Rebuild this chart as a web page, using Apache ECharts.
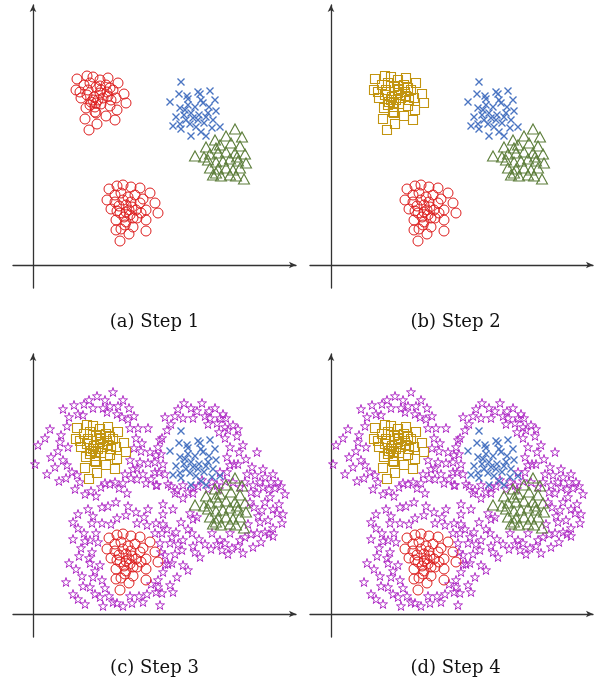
<!DOCTYPE html>
<html>
<head>
<meta charset="utf-8">
<script src="https://cdn.jsdelivr.net/npm/echarts@6/dist/echarts.min.js"></script>
<style>
  html, body { margin: 0; padding: 0; background: #fff; }
  #main { width: 608px; height: 688px; }
</style>
</head>
<body>
<div id="main"></div>
<script>
// cluster points, same coordinates in every panel (origin = axis crossing)
var topCluster = [
  [44,186],[54,189],[60,188],[67,185],[75,187],[85,182],[43,175],[51,180],[57,182],[63,178],
  [73,180],[80,175],[91,171],[48,167],[54,170],[61,168],[67,172],[75,169],[83,167],[93,162],
  [53,157],[62,158],[68,161],[77,159],[84,155],[52,146],[63,152],[73,149],[82,145],[56,135],
  [64,141],[47,173],[58,163],[70,167],[78,165],[65,165],[62,153],[55,175],[67,179],[74,173],
  [60,165],[63,162],[57,160],[68,175],[77,177]
];
var bottomCluster = [
  [76,76],[84,79],[90,80],[98,78],[107,77],[117,72],[74,65],[82,70],[88,72],[95,68],
  [102,70],[110,66],[122,62],[78,56],[86,59],[93,60],[99,58],[107,62],[113,55],[125,52],
  [83,45],[91,48],[97,50],[104,47],[113,45],[83,35],[92,40],[100,38],[113,34],[87,24],
  [96,31],[82,63],[96,55],[103,55],[87,52],[93,43],[84,54],[108,52],[98,63],[90,65],
  [93,53],[100,47],[88,36]
];
var crossCluster = [
  [148,183],[137,163],[146,171],[154,169],[165,173],[167,171],[177,174],[182,165],[147,157],[155,160],
  [162,158],[170,162],[176,158],[183,154],[143,148],[151,150],[158,152],[166,150],[173,148],[180,145],
  [140,139],[148,136],[157,141],[163,138],[171,142],[179,137],[187,138],[158,129],[168,133],[173,129],
  [153,145],[165,145],[155,166],[168,165],[152,155],[160,147],[175,152],[147,141]
];
var triCluster = [
  [202,136],[193,129],[209,128],[182,125],[173,118],[187,120],[198,122],[207,119],[162,109],[177,111],
  [185,112],[193,113],[202,112],[212,111],[175,105],[183,103],[190,104],[197,106],[205,104],[213,102],
  [177,97],[185,96],[193,97],[200,95],[207,97],[180,90],[188,89],[197,90],[203,89],[211,86],
  [183,117],[171,108],[204,108],[183,92]
];
var starPoints = [
  [64,218],[80,222],[90,214],[30,205],[41,209],[51,210],[60,206],[70,206],[77,208],[84,200],
  [96,206],[101,198],[36,197],[45,200],[50,199],[74,202],[89,197],[17,185],[34,188],[28,179],
  [27,172],[35,167],[5,169],[2,150],[18,157],[22,147],[30,154],[34,149],[39,142],[33,136],
  [44,139],[47,132],[58,123],[68,127],[72,131],[82,132],[77,130],[97,186],[105,186],[115,186],
  [103,176],[109,171],[101,166],[108,163],[117,162],[123,159],[97,154],[107,152],[115,151],[104,146],
  [98,136],[104,135],[113,131],[123,129],[126,142],[94,121],[127,174],[90,131],[122,152],
  [151,211],[169,211],[182,206],[132,197],[142,198],[150,196],[160,196],[164,203],[172,198],[177,196],
  [187,196],[193,196],[200,189],[175,190],[184,191],[192,187],[195,184],[186,182],[134,184],[129,176],
  [125,167],[192,176],[204,178],[197,167],[210,169],[206,162],[194,157],[213,155],[224,162],[197,149],
  [201,150],[194,142],[187,142],[219,147],[214,140],[222,139],[232,137],[227,132],[238,132],[245,132],
  [220,129],[230,127],[242,126],[130,150],[122,142],[124,129],[135,130],[144,124],[150,129],[160,127],
  [169,134],[179,132],[184,129],[192,133],[200,132],[207,127],
  [69,107],[83,112],[40,92],[59,91],[69,91],[78,90],[84,96],[93,99],[103,102],[111,97],
  [104,91],[114,89],[123,91],[51,81],[63,81],[57,74],[65,72],[48,66],[59,62],[56,56],
  [36,51],[57,51],[67,49],[49,38],[60,37],[69,34],[72,26],[57,27],[33,32],[67,17],
  [76,18],[80,12],[84,11],[52,10],[97,18],[106,18],[114,20],[123,22],[99,11],[125,34],
  [122,81],[125,27],
  [142,121],[150,116],[160,121],[157,101],[164,97],[148,92],[134,85],[129,81],[139,77],[150,74],
  [159,81],[166,75],[179,81],[197,81],[187,74],[192,71],[207,74],[212,77],[178,65],[189,64],
  [199,66],[210,61],[220,67],[162,62],[167,57],[149,64],[127,71],[137,71],[132,59],[139,51],
  [150,49],[155,44],[144,37],[137,29],[129,21],[140,22],[127,9],[224,121],[232,112],[229,104],
  [244,101],[227,92],[235,94],[224,81],[232,82],[236,80],[217,112],[221,107],[249,91],[237,117],
  [12,176],[25,163],[14,140],[26,133],[42,125],[52,120],[63,118],
  [86,126],[92,140],[100,145],[110,140],[118,135],[95,195],[56,214],
  [72,214],[85,208],
  [138,190],[145,205],[158,206],[176,203],[190,200],[205,185],[205,150],
  [230,145],[128,160],[132,140],[138,128],[155,122],[165,128],[175,125],[186,125],[212,132],
  [218,122],[236,125],[248,128],[240,140],[252,120],[246,110],[240,105],[225,98],[240,86],[250,100],
  [215,90],[218,80],[228,72],[240,78],[205,68],[195,60],[184,70],[172,70],[160,68],[155,85],
  [143,82],[160,95],
  [45,100],[55,105],[75,108],[95,108],[115,105],[130,100],[140,105],[130,110],[45,86],[40,75],
  [46,58],[43,45],[40,20],[45,15],[62,20],[70,8],[90,8],[110,12],[118,30],[130,42],
  [135,50],[142,60],[145,70],[130,90],[128,62],[132,50],[50,28],[62,43],[52,73],[60,98]
];
var captions = ['(a) Step 1', '(b) Step 2', '(c) Step 3', '(d) Step 4'];

var RED = '#dc1c1c', BLUE = '#4a74c2', GREEN = '#5e7f3c', GOLD = '#c29410', PURPLE = '#b030c6';
var CROSS = 'path://M0,0L10,10M10,0L0,10';
var STAR = 'path://M50,2L61,36L97,36L68,57L79,92L50,71L21,92L32,57L3,36L39,36Z';

var panels = [
  { left: 13, top: 5, xmin: -20, xmax: 263, cx: 154.5, cy: 322 },
  { left: 310, top: 5, xmin: -21, xmax: 262, cx: 455.5, cy: 322 },
  { left: 13, top: 354, xmin: -20, xmax: 263, cx: 154.5, cy: 668 },
  { left: 310, top: 354, xmin: -21, xmax: 262, cx: 455.5, cy: 668 }
];

function hollow(name, idx, data, symbol, size, color, width) {
  return {
    name: name, type: 'scatter', xAxisIndex: idx, yAxisIndex: idx,
    data: data, symbol: symbol, symbolSize: size,
    itemStyle: { color: 'none', borderColor: color, borderWidth: width, opacity: 1 },
    emphasis: { disabled: true }
  };
}

function axis(idx, min, max) {
  return {
    type: 'value', gridIndex: idx, min: min, max: max,
    axisLine: {
      onZero: true, symbol: ['none', 'arrow'], symbolSize: [5, 7],
      lineStyle: { color: '#333', width: 1.3 }
    },
    axisTick: { show: false }, axisLabel: { show: false }, splitLine: { show: false }
  };
}

var grids = [], xAxes = [], yAxes = [], series = [], graphics = [];
panels.forEach(function (p, i) {
  grids.push({ left: p.left, top: p.top, width: 283, height: 283 });
  xAxes.push(axis(i, p.xmin, p.xmax));
  yAxes.push(axis(i, -23, 260));
  if (i >= 2) series.push(hollow('stars', i, starPoints, STAR, 9, PURPLE, 1));
  if (i === 0) series.push(hollow('top', i, topCluster, 'circle', 10, RED, 1));
  else series.push(hollow('top', i, topCluster, 'rect', 9, GOLD, 1.1));
  series.push(hollow('bottom', i, bottomCluster, 'circle', 10, RED, 1));
  series.push(hollow('cross', i, crossCluster, CROSS, 7, BLUE, 1.4));
  series.push(hollow('tri', i, triCluster, 'triangle', [11, 10], GREEN, 1.1));
  graphics.push({
    type: 'text', x: p.cx, y: p.cy,
    style: { text: captions[i], font: '18px "DejaVu Serif"', fill: '#111', textAlign: 'center', textVerticalAlign: 'middle' }
  });
});

var chart = echarts.init(document.getElementById('main'));
chart.setOption({
  animation: false,
  grid: grids, xAxis: xAxes, yAxis: yAxes, series: series, graphic: graphics
});
</script>
</body>
</html>
